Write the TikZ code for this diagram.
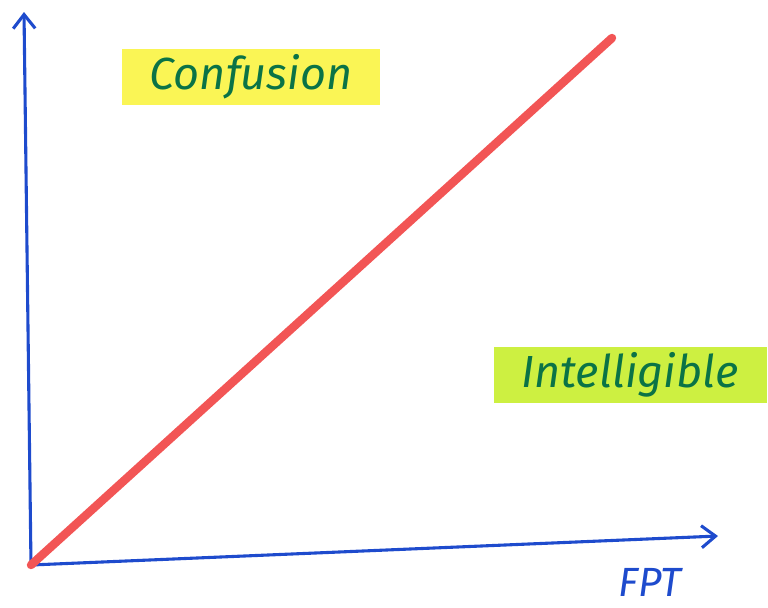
\documentclass[tikz,border=0pt]{standalone}
\usepackage{fontspec}
\setmainfont{Fira Sans}
\usetikzlibrary{arrows.meta}
\definecolor{axisblue}{RGB}{30,75,205}
\definecolor{inkgreen}{RGB}{10,115,70}
\definecolor{hlyellow}{RGB}{250,245,85}
\definecolor{hllime}{RGB}{205,240,65}
\definecolor{redpen}{RGB}{242,85,85}
\tikzset{
  axis/.style={axisblue, line width=2.2pt, line cap=round,
    -{Straight Barb[length=3.5mm,width=5.5mm,line width=2.2pt]}},
  marker/.style={inner xsep=20pt, inner ysep=4pt, font=\fontsize{32}{38}\selectfont\itshape, text=inkgreen},
}
\begin{document}
\begin{tikzpicture}[x=0.025cm, y=-0.025cm]
  \useasboundingbox (0,0) rectangle (768,607);
  \coordinate (origin) at (31,565);
  \coordinate (ytop) at (24,12);
  \coordinate (xend) at (718,536);
  \coordinate (trend) at (612,38);
  % axes
  \draw[axis] (origin) -- (ytop);
  \draw[axis] (origin) -- (xend);
  % diagonal
  \draw[redpen, line width=6pt, line cap=round] (origin) -- (trend);
  % regions
  \node[marker, fill=hlyellow] (confusion) at (251,77) {Confusion};
  \node[marker, fill=hllime] (intelligible) at (630,375) {Intelligible};
  \node[text=axisblue, font=\fontsize{29}{34}\selectfont\itshape, inner sep=0pt] (fpt) at (650,582) {FPT};
\end{tikzpicture}
\end{document}
